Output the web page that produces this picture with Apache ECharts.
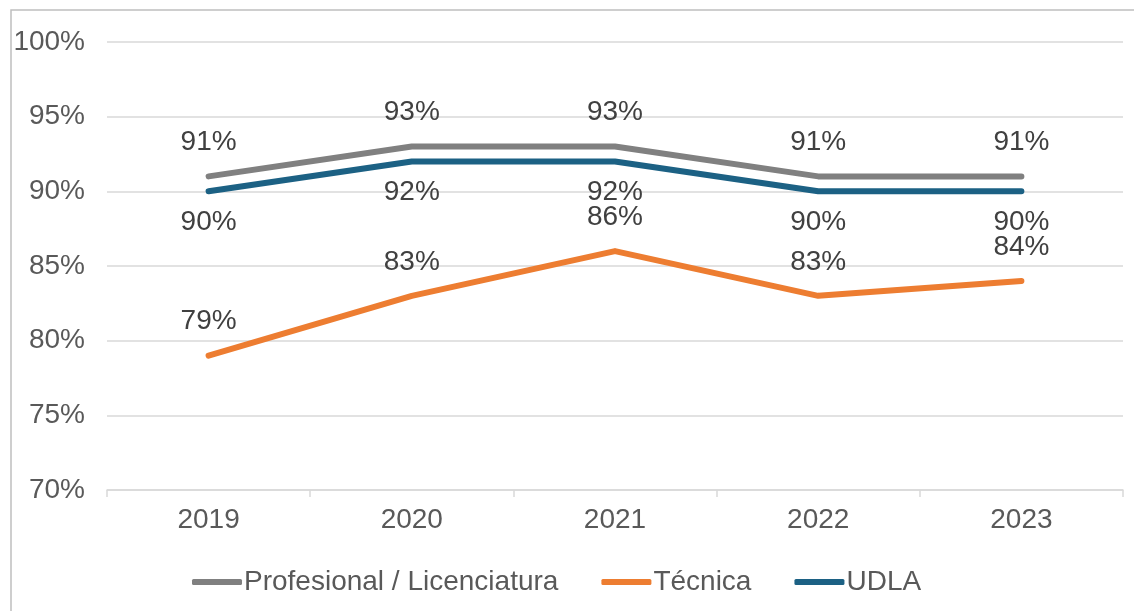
<!DOCTYPE html>
<html>
<head>
<meta charset="utf-8">
<script src="https://cdn.jsdelivr.net/npm/echarts@6/dist/echarts.min.js"></script>
<style>html,body{margin:0;padding:0;background:#fff;}#c{width:1134px;height:611px;}</style>
</head>
<body>
<div id="c"></div>
<script>
const categories = ['2019', '2020', '2021', '2022', '2023'];
const profesional = [91, 93, 93, 91, 91];
const tecnica = [79, 83, 86, 83, 84];
const udla = [90, 92, 92, 90, 90];
const seriesNames = ['Profesional / Licenciatura', 'Técnica', 'UDLA'];
const yTicks = { min: 70, max: 100, interval: 5 };

const FONT = '"Liberation Sans", Arial, sans-serif';
const FS = 28;
const chart = echarts.init(document.getElementById('c'));
function lineSeries(name, data, color, pos, dist) {
  return {
    name: name, type: 'line', data: data, symbol: 'circle', symbolSize: 0, showSymbol: true,
    lineStyle: { color: color, width: 6, cap: 'round', join: 'round' },
    itemStyle: { color: color },
    label: { show: true, position: pos, distance: dist, formatter: '{c}%',
      color: '#404040', fontSize: FS, fontFamily: FONT },
    emphasis: { disabled: true }
  };
}
chart.setOption({
  animation: false,
  backgroundColor: '#fff',
  graphic: [{ type: 'rect', shape: { x: 11, y: 10, width: 1300, height: 800 },
    style: { fill: 'none', stroke: '#bfbfbf', lineWidth: 1.5 }, silent: true, z: -1 }],
  grid: { left: 107, right: 11, top: 42, bottom: 121, containLabel: false },
  legend: {
    left: 187, top: 563, itemWidth: 50, itemHeight: 6, itemGap: 43, icon: 'roundRect',
    textStyle: { color: '#595959', fontSize: FS, fontFamily: FONT, padding: [0, 0, 0, -3] },
    data: seriesNames
  },
  xAxis: {
    type: 'category', data: categories, boundaryGap: true,
    axisLine: { lineStyle: { color: '#d9d9d9', width: 1.5 } },
    axisTick: { show: true, length: 7, lineStyle: { color: '#d9d9d9', width: 1.5 } },
    axisLabel: { color: '#595959', fontSize: FS, fontFamily: FONT, margin: 16 }
  },
  yAxis: {
    type: 'value', min: yTicks.min, max: yTicks.max, interval: yTicks.interval,
    axisLine: { show: false }, axisTick: { show: false },
    splitLine: { lineStyle: { color: '#d9d9d9', width: 1.5 } },
    axisLabel: { formatter: '{value}%', color: '#595959', fontSize: FS, fontFamily: FONT, margin: 22 }
  },
  series: [
    lineSeries(seriesNames[0], profesional, '#808080', 'top', 20),
    lineSeries(seriesNames[1], tecnica, '#ed7d31', 'top', 20),
    lineSeries(seriesNames[2], udla, '#1c6184', 'bottom', 17)
  ]
});
</script>
</body>
</html>
